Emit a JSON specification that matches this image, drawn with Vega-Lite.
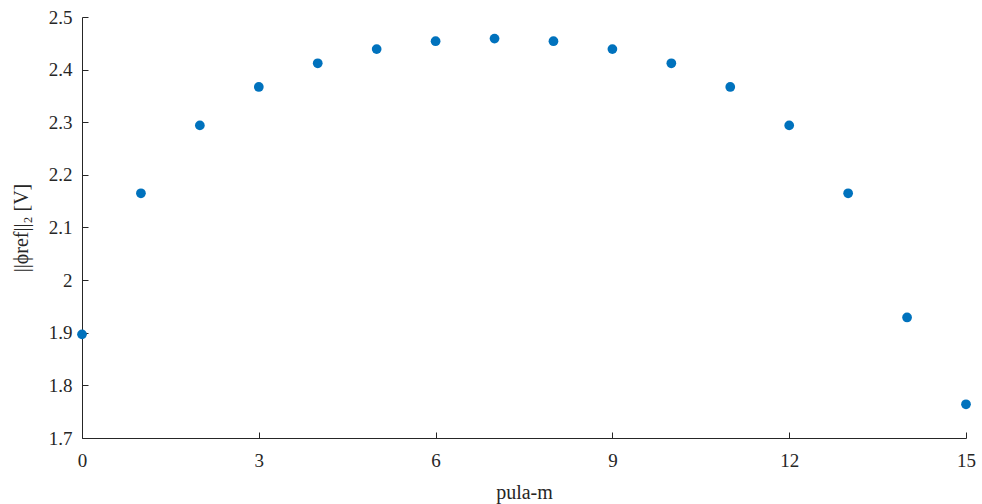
{
  "$schema": "https://vega.github.io/schema/vega-lite/v6.json",
  "width": 884,
  "height": 421,
  "autosize": {"type": "none"},
  "padding": {"left": 82, "top": 17, "right": 16, "bottom": 66},
  "background": "white",
  "config": {
    "view": {"stroke": null},
    "font": "Liberation Serif",
    "axis": {
      "domainColor": "#262626",
      "tickColor": "#262626",
      "labelColor": "#262626",
      "titleColor": "#262626",
      "labelFont": "Liberation Serif",
      "titleFont": "Liberation Serif",
      "labelFontSize": 19,
      "titleFontSize": 20,
      "titleFontWeight": "normal",
      "grid": false,
      "tickSize": -6,
      "domainWidth": 1,
      "tickWidth": 1,
      "labelFlush": false
    }
  },
  "data": {
    "values": [
      {"m": 0, "norm": 1.897},
      {"m": 1, "norm": 2.165},
      {"m": 2, "norm": 2.294},
      {"m": 3, "norm": 2.367},
      {"m": 4, "norm": 2.412},
      {"m": 5, "norm": 2.439},
      {"m": 6, "norm": 2.454},
      {"m": 7, "norm": 2.459},
      {"m": 8, "norm": 2.454},
      {"m": 9, "norm": 2.439},
      {"m": 10, "norm": 2.412},
      {"m": 11, "norm": 2.367},
      {"m": 12, "norm": 2.294},
      {"m": 13, "norm": 2.165},
      {"m": 14, "norm": 1.929},
      {"m": 15, "norm": 1.764}
    ]
  },
  "mark": {"type": "point", "filled": true, "shape": "circle", "size": 95, "color": "#0072BD", "opacity": 1},
  "encoding": {
    "x": {
      "field": "m",
      "type": "quantitative",
      "scale": {"domain": [0, 15], "nice": false, "zero": false},
      "axis": {"title": "pula-m", "values": [0, 3, 6, 9, 12, 15], "labelPadding": 19, "titlePadding": 12}
    },
    "y": {
      "field": "norm",
      "type": "quantitative",
      "scale": {"domain": [1.7, 2.5], "nice": false, "zero": false},
      "axis": {
        "title": "||ϕref||₂ [V]",
        "values": [1.7, 1.8, 1.9, 2.0, 2.1, 2.2, 2.3, 2.4, 2.5],
        "format": "~g",
        "labelPadding": 16,
        "titlePadding": 17
      }
    }
  }
}
